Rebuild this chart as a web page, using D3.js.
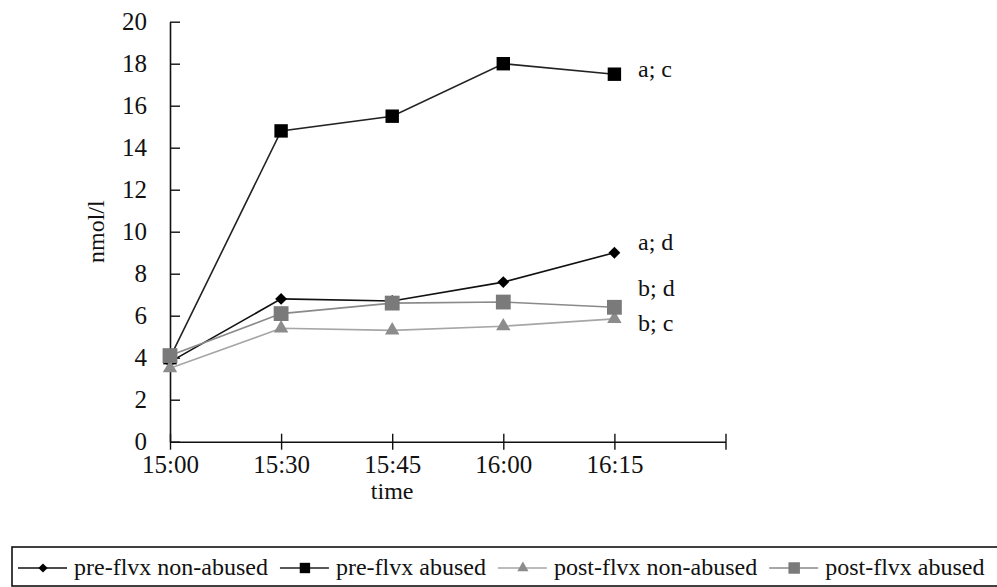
<!DOCTYPE html>
<html>
<head>
<meta charset="utf-8">
<script src="https://cdn.jsdelivr.net/npm/d3@7"></script>
<style>
   body { margin: 0; background: #fff; }
   svg { display: block; font-family: "Liberation Serif", "Times New Roman", serif; }
   text { fill: #111; }
</style>
</head>
<body>
<svg id="chart" width="997" height="587"></svg>
<script>
// data
var times = ["15:00", "15:30", "15:45", "16:00", "16:15"];
var seriesNames = ["pre-flvx non-abused", "pre-flvx abused", "post-flvx non-abused", "post-flvx abused"];
var preNonAbused = [3.8, 6.8, 6.7, 7.6, 9.0];
var preAbused = [4.0, 14.8, 15.5, 18.0, 17.5];
var postNonAbused = [3.5, 5.4, 5.3, 5.5, 5.85];
var postAbused = [4.1, 6.1, 6.6, 6.65, 6.4];
var yTicks = [0, 2, 4, 6, 8, 10, 12, 14, 16, 18, 20];
var noteText = ["a; d", "a; c", "b; c", "b; d"];
var noteValue = [9.5, 17.75, 5.65, 7.3];

var allSeries = [preNonAbused, preAbused, postNonAbused, postAbused];
var styles = [
   {color: "#000", line: "#111", shape: d3.symbolDiamond2, size: 90},
   {color: "#000", line: "#222", shape: d3.symbolSquare, size: 180},
   {color: "#8c8c8c", line: "#a6a6a6", shape: d3.symbolTriangle, size: 90},
   {color: "#7a7a7a", line: "#8a8a8a", shape: d3.symbolSquare, size: 220}
];

var svg = d3.select("#chart");

var x = d3.scaleLinear().domain([0, times.length]).range([170, 725.5]);
var y = d3.scaleLinear().domain([0, 20]).range([441.7, 21.7]);

// y axis
var yAxis = svg.append("g")
   .attr("transform", "translate(" + x(0) + ",0)")
   .call(d3.axisLeft(y).tickValues(yTicks).tickSize(10).tickSizeOuter(0).tickPadding(13));
yAxis.select(".domain").attr("stroke", "#111").attr("stroke-width", 1.6);
yAxis.selectAll(".tick line").attr("stroke", "#111").attr("stroke-width", 1.4).attr("x2", 10);
yAxis.selectAll(".tick text")
   .attr("font-size", 25).attr("font-family", "Liberation Serif").attr("fill", "#111");

// x axis, with ticks crossing the line
var xAxis = svg.append("g")
   .attr("transform", "translate(0," + y(0) + ")")
   .call(d3.axisBottom(x).tickValues(d3.range(times.length + 1)).tickSize(8).tickSizeOuter(0)
      .tickFormat(function (d) { return times[d] || ""; }).tickPadding(6));
xAxis.select(".domain").attr("stroke", "#111").attr("stroke-width", 1.6);
xAxis.selectAll(".tick line").attr("stroke", "#111").attr("stroke-width", 1.4).attr("y1", -8);
xAxis.selectAll(".tick text")
   .attr("font-size", 25).attr("font-family", "Liberation Serif").attr("fill", "#111");

// axis titles
svg.append("text")
   .attr("transform", "translate(104," + y(10) + ") rotate(-90)")
   .attr("text-anchor", "middle")
   .attr("font-size", 24)
   .text("nmol/l");

svg.append("text")
   .attr("x", x(2)).attr("y", 499)
   .attr("text-anchor", "middle")
   .attr("font-size", 24)
   .text("time");

// lines and markers, one series after the other
var line = d3.line()
   .x(function (d, i) { return x(i); })
   .y(function (d) { return y(d); });

allSeries.forEach(function (values, k) {
   var s = styles[k];
   var g = svg.append("g");
   g.append("path")
      .datum(values)
      .attr("fill", "none")
      .attr("stroke", s.line)
      .attr("stroke-width", 1.6)
      .attr("d", line);
   g.selectAll(".mark")
      .data(values)
      .enter().append("path")
      .attr("class", "mark")
      .attr("transform", function (d, i) { return "translate(" + x(i) + "," + y(d) + ")"; })
      .attr("d", d3.symbol().type(s.shape).size(s.size))
      .attr("fill", s.color);
});

// significance notes next to the last points
svg.append("g").selectAll("text")
   .data(noteText)
   .enter().append("text")
   .attr("x", 638)
   .attr("y", function (d, i) { return y(noteValue[i]); })
   .attr("dy", "0.33em")
   .attr("font-size", 24)
   .text(function (d) { return d; });

// legend
var legend = svg.append("g");
legend.append("rect")
   .attr("x", 12).attr("y", 547)
   .attr("width", 1000).attr("height", 39)
   .attr("fill", "none").attr("stroke", "#111").attr("stroke-width", 1.6);

var lx = 18, ly = 568;
seriesNames.forEach(function (name, k) {
   var s = styles[k];
   legend.append("line")
      .attr("x1", lx).attr("x2", lx + 49)
      .attr("y1", ly).attr("y2", ly)
      .attr("stroke", s.line).attr("stroke-width", 1.6);
   legend.append("path")
      .attr("transform", "translate(" + (lx + 25) + "," + ly + ")")
      .attr("d", d3.symbol().type(s.shape).size(s.size * 0.6))
      .attr("fill", s.color);
   var t = legend.append("text")
      .attr("x", lx + 56).attr("y", ly)
      .attr("dy", "0.3em")
      .attr("font-size", 24)
      .text(name);
   lx = lx + 56 + t.node().getComputedTextLength() + 12;
});
</script>
</body>
</html>
